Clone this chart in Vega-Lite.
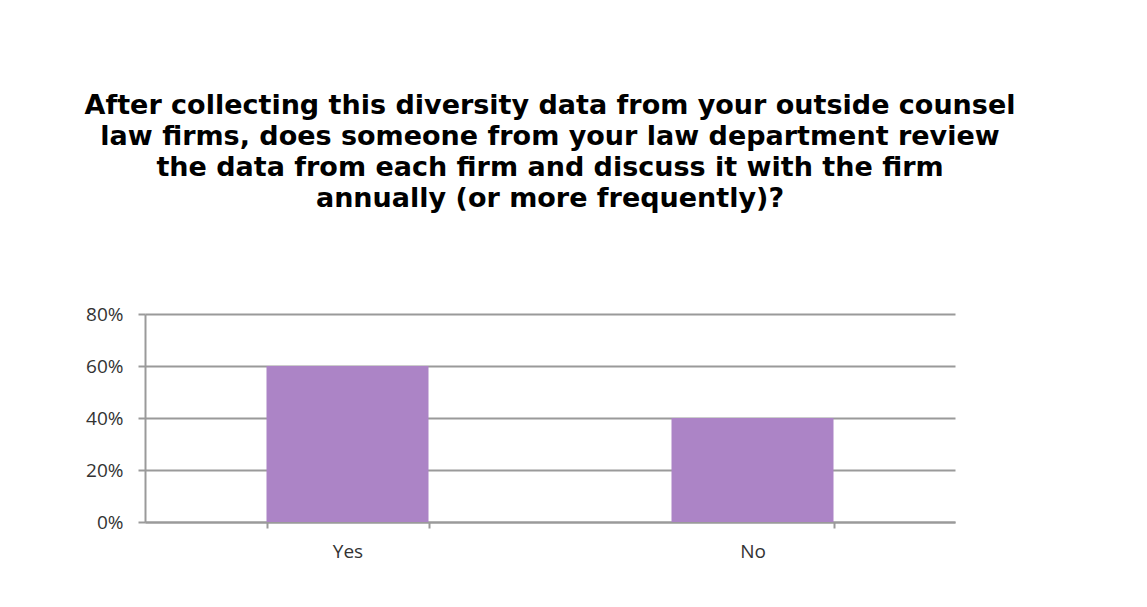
{
  "$schema": "https://vega.github.io/schema/vega-lite/v6.json",
  "autosize": {"type": "none"},
  "width": 810,
  "height": 208,
  "padding": {"left": 145, "top": 314, "right": 192, "bottom": 85},
  "background": "white",
  "title": {
    "text": [
      "After collecting this diversity data from your outside counsel",
      "law firms, does someone from your law department review",
      "the data from each firm and discuss it with the firm",
      "annually (or more frequently)?"
    ],
    "anchor": "middle",
    "font": "DejaVu Sans",
    "fontSize": 27,
    "fontWeight": "bold",
    "color": "#000000",
    "lineHeight": 31,
    "offset": 92
  },
  "data": {
    "values": [
      {"answer": "Yes", "share": 0.6},
      {"answer": "No", "share": 0.4}
    ]
  },
  "mark": {"type": "bar", "color": "#ac84c6"},
  "encoding": {
    "x": {
      "field": "answer",
      "type": "nominal",
      "sort": ["Yes", "No"],
      "scale": {"paddingInner": 0.6, "paddingOuter": 0.3},
      "axis": {
        "title": null,
        "labelAngle": 0,
        "labelFont": "Open Sans",
        "labelFontSize": 19,
        "labelColor": "#333333",
        "labelPadding": 14,
        "tickBand": "extent",
        "tickSize": 6,
        "tickColor": "#9a9a9a",
        "tickWidth": 2,
        "domainColor": "#9a9a9a",
        "domainWidth": 2,
        "grid": false
      }
    },
    "y": {
      "field": "share",
      "type": "quantitative",
      "scale": {"domain": [0, 0.8]},
      "axis": {
        "title": null,
        "format": ".0%",
        "values": [0, 0.2, 0.4, 0.6, 0.8],
        "labelFont": "Open Sans",
        "labelFontSize": 19,
        "labelColor": "#333333",
        "labelPadding": 15,
        "tickSize": 7,
        "tickColor": "#9a9a9a",
        "tickWidth": 2,
        "domainColor": "#9a9a9a",
        "domainWidth": 2,
        "grid": true,
        "gridColor": "#9a9a9a",
        "gridWidth": 2
      }
    }
  },
  "config": {"view": {"stroke": null}}
}
